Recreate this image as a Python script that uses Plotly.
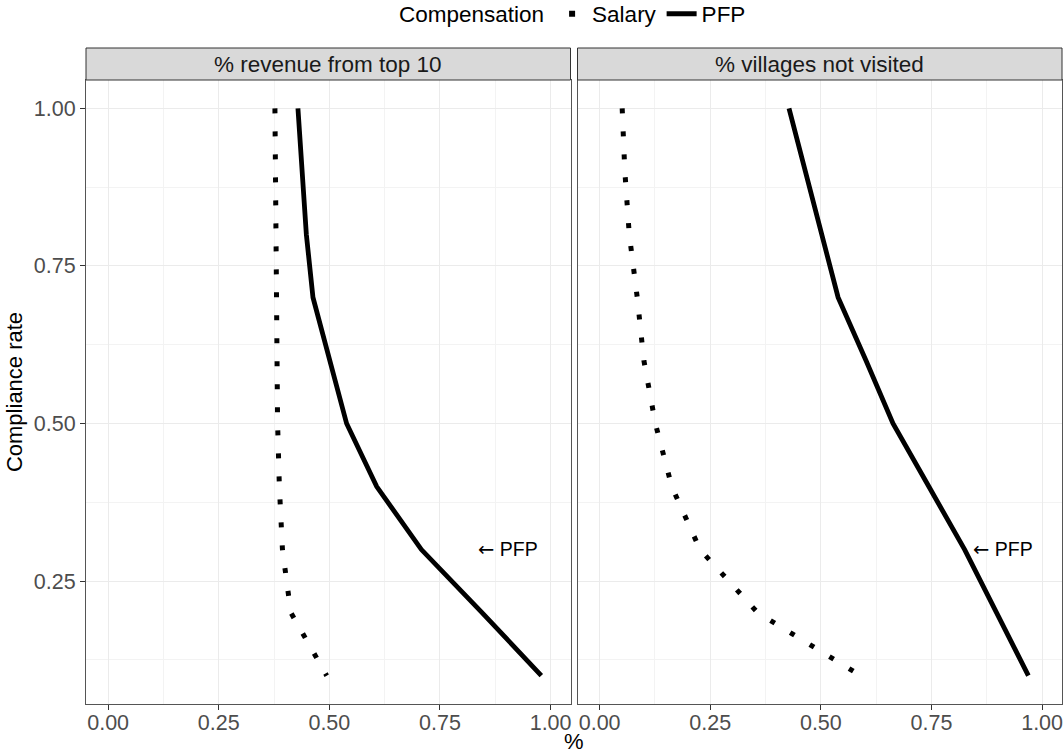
import plotly.graph_objects as go
from plotly.subplots import make_subplots

# ---- data ----
compliance = [1.0, 0.9, 0.8, 0.7, 0.6, 0.5, 0.4, 0.3, 0.2, 0.1]
rev_salary = [0.377, 0.378, 0.379, 0.380, 0.381, 0.383, 0.387, 0.394, 0.413, 0.494]
rev_pfp = [0.429, 0.439, 0.448, 0.463, 0.501, 0.539, 0.607, 0.708, 0.845, 0.979]
vil_salary = [0.051, 0.057, 0.067, 0.085, 0.100, 0.126, 0.163, 0.227, 0.357, 0.590]
vil_pfp = [0.428, 0.465, 0.502, 0.539, 0.602, 0.663, 0.744, 0.825, 0.897, 0.969]

panel_titles = ["% revenue from top 10", "% villages not visited"]
label_x = [0.832, 0.839]
label_y = 0.3
label_text = "<span style='font-family:DejaVu Sans'>\u2190</span> PFP"

x_ticks = [0, 0.25, 0.5, 0.75, 1.0]
y_ticks = [0.25, 0.5, 0.75, 1.0]

FONT = "Liberation Sans, Arial, sans-serif"
W, H = 1064, 753
ML, MR, MT, MB = 86, 2, 80, 49
plot_h = H - MT - MB

fig = make_subplots(rows=1, cols=2, shared_yaxes=True, horizontal_spacing=7 / (W - ML - MR))

panels = [(rev_salary, rev_pfp), (vil_salary, vil_pfp)]
for i, (sal, pfp) in enumerate(panels, start=1):
    fig.add_trace(go.Scatter(x=sal, y=compliance, mode="lines",
                             line=dict(color="black", width=5, dash="5px,18px"),
                             showlegend=False, hoverinfo="skip"), row=1, col=i)
    fig.add_trace(go.Scatter(x=pfp, y=compliance, mode="lines",
                             line=dict(color="black", width=4.8),
                             showlegend=False, hoverinfo="skip"), row=1, col=i)

# legend-only entries
fig.add_trace(go.Scatter(x=[None], y=[None], mode="markers", name="Salary",
                         marker=dict(symbol="square", size=6, color="black")))
fig.add_trace(go.Scatter(x=[None], y=[None], mode="lines", name="PFP",
                         line=dict(color="black", width=5)))

axis_common = dict(
    showline=True, linecolor="#555555", linewidth=1, mirror=True,
    showgrid=True, gridcolor="#EBEBEB", gridwidth=1.1,
    minor=dict(showgrid=True, gridcolor="#F3F3F3", gridwidth=0.6),
    ticks="outside", ticklen=5, tickcolor="#333333", tickwidth=1,
    tickfont=dict(family=FONT, size=21.5, color="#4D4D4D"),
    tickformat=".2f", zeroline=False,
)

for i in (1, 2):
    fig.update_xaxes(range=[-0.05, 1.045], tickvals=x_ticks,
                     minor_tickvals=[0.125, 0.375, 0.625, 0.875],
                     ticklabelstandoff=-6,
                     row=1, col=i, **axis_common)
fig.update_yaxes(range=[0.055, 1.045], tickvals=y_ticks,
                 minor_tickvals=[0.125, 0.375, 0.625, 0.875],
                 ticklabelstandoff=0,
                 row=1, col=1, **axis_common)
fig.update_yaxes(range=[0.055, 1.045], tickvals=y_ticks,
                 minor_tickvals=[0.125, 0.375, 0.625, 0.875],
                 showticklabels=False, ticks="", row=1, col=2,
                 **{k: v for k, v in axis_common.items() if k not in ("ticks",)})

fig.update_yaxes(title=dict(text="Compliance rate", standoff=5,
                            font=dict(family=FONT, size=22, color="black")), row=1, col=1)

# strips
strip_h = 32 / plot_h
xrefs = ["x", "x2"]
for xr, title, lx in zip(xrefs, panel_titles, label_x):
    fig.add_shape(type="rect", xref=f"{xr} domain", yref="paper",
                  x0=0, x1=1, y0=1, y1=1 + strip_h,
                  fillcolor="#D9D9D9", line=dict(color="#333333", width=1), layer="above")
    fig.add_annotation(xref=f"{xr} domain", yref="paper", x=0.5, y=1 + strip_h / 2,
                       text=title, showarrow=False, xanchor="center", yanchor="middle",
                       font=dict(family=FONT, size=22.5, color="#1A1A1A"))
    fig.add_annotation(xref=xr, yref="y", x=lx, y=label_y, text=label_text,
                       showarrow=False, xanchor="left", yanchor="middle",
                       font=dict(family=FONT, size=19.5, color="black"))

# x-axis title centred under both panels
fig.add_annotation(xref="paper", yref="paper", x=0.5, y=-(741 - (MT + plot_h)) / plot_h,
                   text="%", showarrow=False, xanchor="center", yanchor="middle",
                   font=dict(family=FONT, size=22, color="black"))

fig.update_layout(
    width=W, height=H,
    margin=dict(l=ML, r=MR, t=MT, b=MB, autoexpand=False),
    paper_bgcolor="white", plot_bgcolor="white",
    font=dict(family=FONT, color="black"),
    legend=dict(orientation="h", x=0.5, xanchor="center",
                y=1 + (MT - 14) / plot_h, yanchor="middle",
                title=dict(text="Compensation", side="left",
                           font=dict(family=FONT, size=22.5, color="black")),
                font=dict(family=FONT, size=22.5, color="black"),
                itemwidth=30, bgcolor="rgba(0,0,0,0)"),
)

fig.write_html("out.html", config={"displayModeBar": False},
               post_script="document.body.style.margin='0';document.body.style.padding='0';"
                           "document.body.style.overflow='hidden';")
